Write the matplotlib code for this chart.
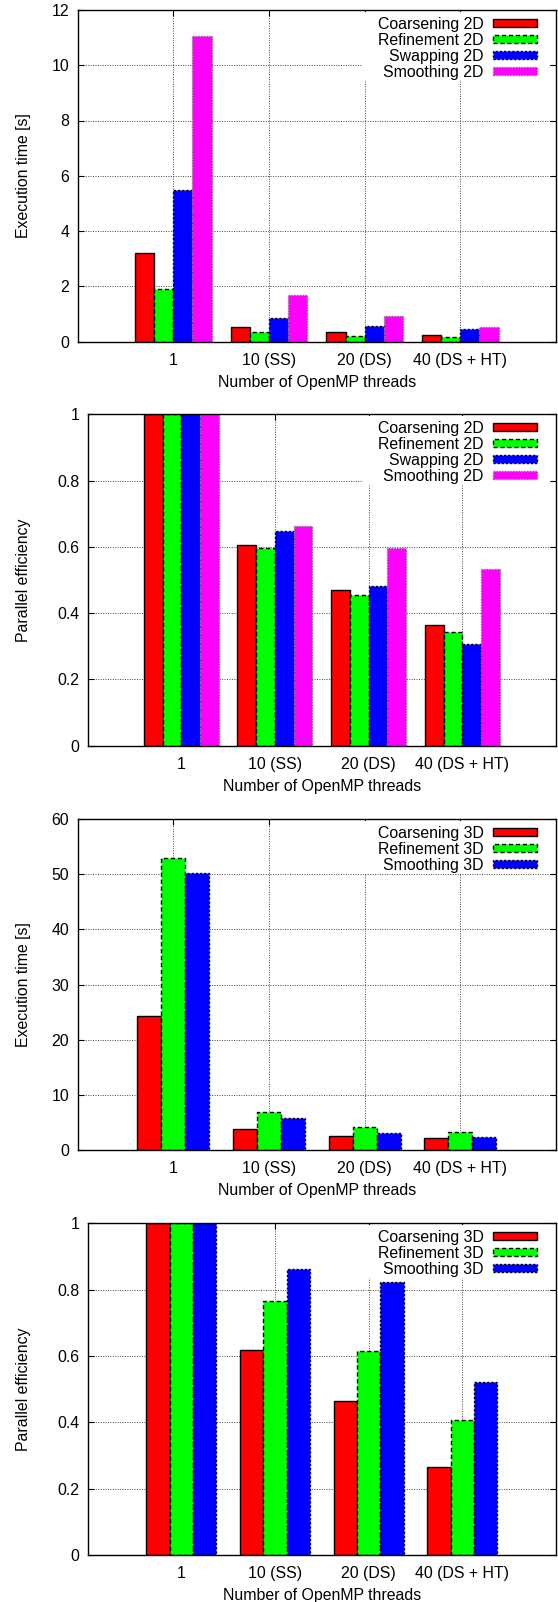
import matplotlib
matplotlib.use('Agg')
import matplotlib.pyplot as plt
from matplotlib.patches import Rectangle
import numpy as np

plt.rcParams['font.family'] = ['Liberation Sans', 'DejaVu Sans']

# ---------------- data ----------------
categories = ['1', '10 (SS)', '20 (DS)', '40 (DS + HT)']

labels_2d = ['Coarsening 2D', 'Refinement 2D', 'Swapping 2D', 'Smoothing 2D']
time_coarsening_2d = [3.19, 0.54, 0.35, 0.23]
time_refinement_2d = [1.91, 0.33, 0.21, 0.15]
time_swapping_2d = [5.50, 0.85, 0.57, 0.46]
time_smoothing_2d = [11.07, 1.68, 0.93, 0.52]

eff_coarsening_2d = [1.0, 0.605, 0.470, 0.363]
eff_refinement_2d = [1.0, 0.597, 0.454, 0.342]
eff_swapping_2d = [1.0, 0.648, 0.482, 0.306]
eff_smoothing_2d = [1.0, 0.662, 0.597, 0.533]

labels_3d = ['Coarsening 3D', 'Refinement 3D', 'Smoothing 3D']
time_coarsening_3d = [24.26, 3.92, 2.60, 2.29]
time_refinement_3d = [52.99, 6.88, 4.22, 3.26]
time_smoothing_3d = [50.15, 5.79, 3.08, 2.41]

eff_coarsening_3d = [1.0, 0.618, 0.465, 0.266]
eff_refinement_3d = [1.0, 0.766, 0.614, 0.406]
eff_smoothing_3d = [1.0, 0.861, 0.823, 0.522]

time_ticks_2d = [0, 2, 4, 6, 8, 10, 12]
time_ticks_3d = [0, 10, 20, 30, 40, 50, 60]
eff_ticks = [0, 0.2, 0.4, 0.6, 0.8, 1.0]
eff_ticklabels = ['0', '0.2', '0.4', '0.6', '0.8', '1']

xlabel = 'Number of OpenMP threads'

# ---------------- styles ----------------
colors4 = ['#ff0000', '#00ff00', '#0000ff', '#ff00ff']
edgecols4 = ['black', 'black', 'black', '#777777']
styles4 = ['-', (0, (3, 2)), (0, (1.5, 1.5)), (0, (1, 1))]
FS = 11.4

W, H = 558, 1602
fig = plt.figure(figsize=(W / 100, H / 100), dpi=100)


def make_axes(left, right, top, bottom):
    ax = fig.add_axes([left / W, 1 - bottom / H, (right - left) / W, (bottom - top) / H])
    return ax, (left, right, top, bottom)


def draw_panel(ax, geom, series, labels, ymax, yticks, yticklabels, ylabel, width, ylabel_px):
    left, right, top, bottom = geom
    n = len(series)
    x = np.arange(1, len(categories) + 1)
    offsets = (np.arange(n) - (n - 1) / 2) * width
    for i, vals in enumerate(series):
        ax.bar(x + offsets[i], vals, width, color=colors4[i], edgecolor=edgecols4[i],
               linewidth=1.0, linestyle=styles4[i], zorder=2)
    ax.set_xlim(0, 5)
    ax.set_ylim(0, ymax)
    ax.set_xticks(x)
    ax.set_xticklabels(categories, fontsize=FS)
    ax.set_yticks(yticks)
    ax.set_yticklabels(yticklabels, fontsize=FS)
    ax.set_axisbelow(True)
    ax.grid(True, linestyle=(0, (1, 1.5)), color='#444444', linewidth=0.7)
    ax.tick_params(direction='in', length=4.5, width=0.8, top=True, right=True, pad=6)
    ax.tick_params(axis='x', pad=8)
    for s in ax.spines.values():
        s.set_linewidth(1.0)
        s.set_zorder(10)
    ax.set_xlabel(xlabel, fontsize=FS, labelpad=5)
    ax.set_ylabel(ylabel, fontsize=FS)
    ax.yaxis.set_label_coords((ylabel_px - left) / (right - left), 0.5)

    def fx(px):
        return (px - left) / (right - left)

    def fy(py_off):
        return 1 - py_off / (bottom - top)

    row0, rowstep = 12.8, 16.0
    box_bottom = row0 + rowstep * (len(labels) - 1) + 10
    # opaque key area (hides grid lines, sits below the bars)
    ax.add_patch(Rectangle((fx(362), fy(box_bottom)), fx(549) - fx(362), fy(2) - fy(box_bottom),
                           transform=ax.transAxes, facecolor='white', edgecolor='none', zorder=1.5))
    for i, lab in enumerate(labels):
        yo = row0 + rowstep * i
        ax.text(fx(483.5), fy(yo), lab, transform=ax.transAxes, ha='right', va='center_baseline',
                fontsize=FS, zorder=5)
        ax.add_patch(Rectangle((fx(493), fy(yo + 4)), fx(537) - fx(493), fy(yo - 4) - fy(yo + 4),
                               transform=ax.transAxes, facecolor=colors4[i], edgecolor=edgecols4[i],
                               linewidth=1.0, linestyle=styles4[i], zorder=4))


ax1, g1 = make_axes(77.6, 556, 10, 341.5)
draw_panel(ax1, g1, [time_coarsening_2d, time_refinement_2d, time_swapping_2d, time_smoothing_2d],
           labels_2d, 12, time_ticks_2d, [str(t) for t in time_ticks_2d], 'Execution time [s]', 0.2, 30.5)

ax2, g2 = make_axes(87.6, 556, 414.3, 745.7)
draw_panel(ax2, g2, [eff_coarsening_2d, eff_refinement_2d, eff_swapping_2d, eff_smoothing_2d],
           labels_2d, 1, eff_ticks, eff_ticklabels, 'Parallel efficiency', 0.2, 31.2)

ax3, g3 = make_axes(77.6, 556, 819, 1150.3)
draw_panel(ax3, g3, [time_coarsening_3d, time_refinement_3d, time_smoothing_3d],
           labels_3d, 60, time_ticks_3d, [str(t) for t in time_ticks_3d], 'Execution time [s]', 0.25, 30.5)

ax4, g4 = make_axes(87.6, 556, 1223.3, 1555)
draw_panel(ax4, g4, [eff_coarsening_3d, eff_refinement_3d, eff_smoothing_3d],
           labels_3d, 1, eff_ticks, eff_ticklabels, 'Parallel efficiency', 0.25, 31.2)

fig.savefig('out.png', dpi=100)
